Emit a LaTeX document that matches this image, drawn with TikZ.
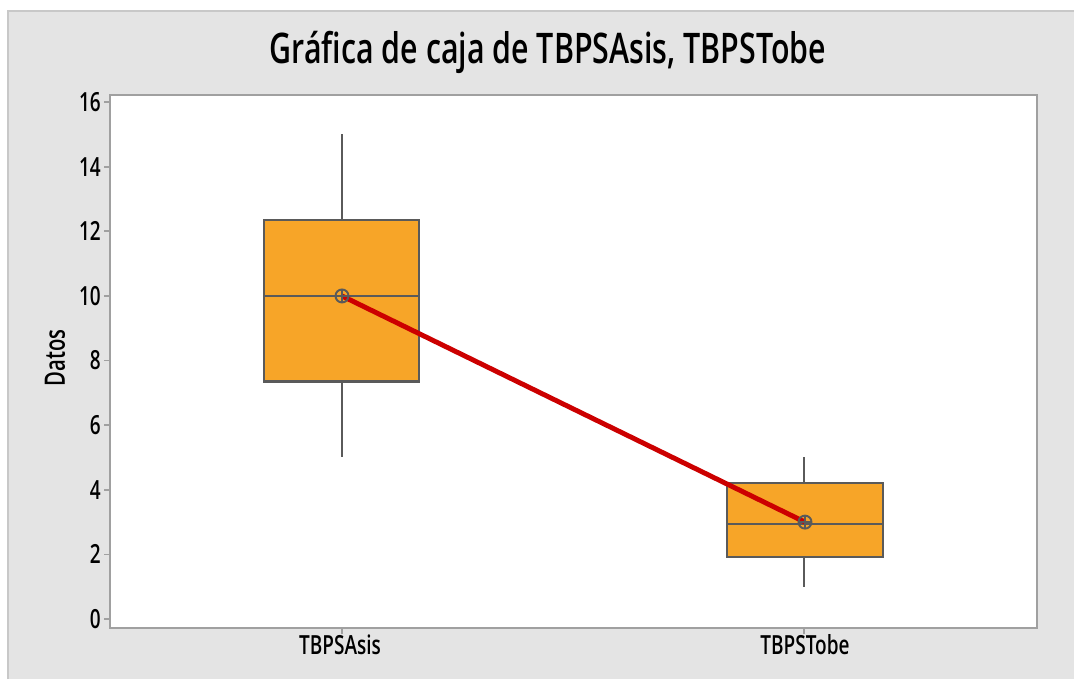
\documentclass[tikz,border=0pt]{standalone}
\usepackage{fontspec}
\setmainfont{Open Sans}[BoldFont={Open Sans Semibold}]
\usepackage{tikz}

\definecolor{panelgray}{HTML}{E4E4E4}
\definecolor{edgegray}{HTML}{C8C8C8}
\definecolor{framegray}{HTML}{A0A0A0}
\definecolor{boxorange}{HTML}{F7A528}
\definecolor{boxline}{HTML}{5A5A5A}
\definecolor{meanred}{HTML}{CC0000}

\tikzset{
	boxfill/.style={fill=boxorange, draw=boxline, line width=1.3pt},
	whisk/.style={draw=boxline, line width=1pt},
	meanmark/.style={draw=boxline, line width=1.1pt},
	ticklab/.style={font=\fontsize{15}{15}\selectfont\bfseries, xscale=0.72, inner sep=0pt},
}

\begin{document}
\begin{tikzpicture}[x=0.02cm, y=-0.02cm]
	\useasboundingbox (0,0) rectangle (1074,679);
	\fill[white] (0,0) rectangle (1074,679);
	\fill[panelgray] (8,11) rectangle (1074,679);
	\draw[edgegray, line width=1.3pt] (8,679) -- (8,11) -- (1074,11);

	% title
	\node[font=\fontsize{24}{24}\selectfont\bfseries, xscale=0.72, inner sep=0pt] (title) at (548,52) {Gráfica de caja de TBPSAsis, TBPSTobe};

	% plot area
	\fill[white] (110,95) rectangle (1037,628);
	\draw[framegray, line width=1.2pt] (110,95) rectangle (1037,628);

	\node[rotate=90, inner sep=0pt, font=\fontsize{16}{16}\selectfont\bfseries] (ylab) at (55,358) {\scalebox{0.72}[1]{Datos}};

	\begin{scope}[shift={(0,619)}, y=0.6462cm]
		% y ticks
		\foreach \v in {0,2,...,16}{
			\draw[framegray, line width=1pt] (104,\v) -- (110,\v);
			\node[ticklab, anchor=east] (tick\v) at (101,\v) {\v};
		}
		% x ticks
		\draw[framegray, line width=1pt] (342,-0.28) -- (342,-0.45);
		\draw[framegray, line width=1pt] (804,-0.28) -- (804,-0.45);
		\node[ticklab] (asis) at (340,-0.8) {TBPSAsis};
		\node[ticklab] (tobe) at (805,-0.8) {TBPSTobe};

		% TBPSAsis
		\draw[whisk] (342,12.35) -- (342,15);
		\draw[whisk] (342,7.35) -- (342,5);
		\draw[boxfill] (264,7.35) rectangle (419,12.35);
		\draw[whisk] (264,10) -- (419,10);

		% TBPSTobe
		\draw[whisk] (804,4.2) -- (804,5);
		\draw[whisk] (804,1.92) -- (804,1);
		\draw[boxfill] (727,1.92) rectangle (883,4.2);
		\draw[whisk] (727,2.95) -- (883,2.95);

		% means
		\coordinate (meanA) at (342,10);
		\coordinate (meanB) at (805,3);
		\draw[meanred, line width=2.8pt] (meanA) -- (meanB);
		\foreach \m in {meanA,meanB}{
			\draw[meanmark] (\m) circle[radius=0.13cm];
			\draw[meanmark] ([xshift=-0.13cm]\m) -- ([xshift=0.13cm]\m);
			\draw[meanmark] ([yshift=-0.13cm]\m) -- ([yshift=0.13cm]\m);
		}
	\end{scope}
\end{tikzpicture}
\end{document}
